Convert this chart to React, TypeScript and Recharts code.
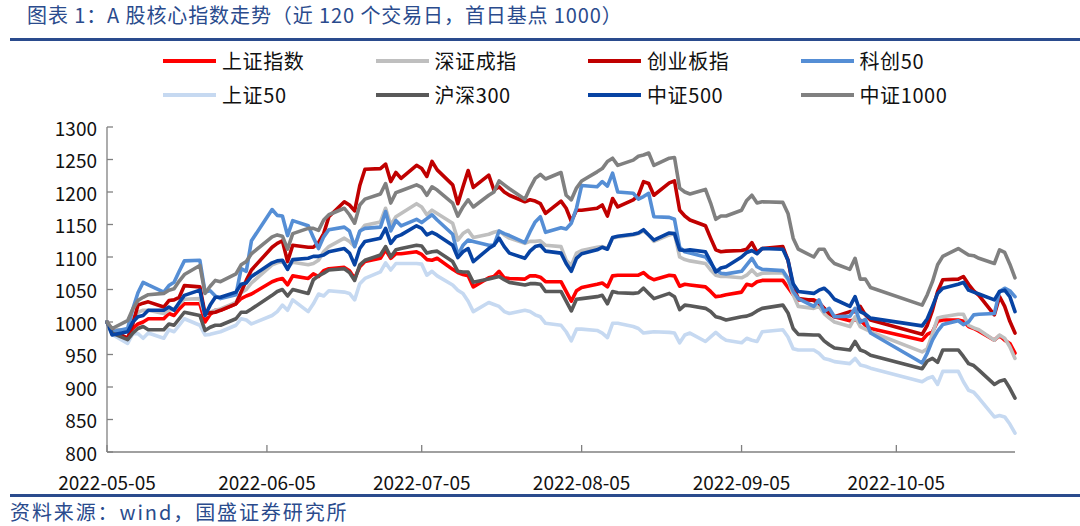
import React from 'react';
import { LineChart, Line, XAxis, YAxis } from 'recharts';

// 交易日（2022-05-05 起，共 120 个）
const tradeDays = [
  '2022-05-05', '2022-05-06', '2022-05-09', '2022-05-10', '2022-05-11', '2022-05-12', '2022-05-13',
  '2022-05-16', '2022-05-17', '2022-05-18', '2022-05-19', '2022-05-20', '2022-05-23', '2022-05-24',
  '2022-05-25', '2022-05-26', '2022-05-27', '2022-05-30', '2022-05-31',
  '2022-06-01', '2022-06-02', '2022-06-06', '2022-06-07', '2022-06-08', '2022-06-09', '2022-06-10',
  '2022-06-13', '2022-06-14', '2022-06-15', '2022-06-16', '2022-06-17', '2022-06-20', '2022-06-21',
  '2022-06-22', '2022-06-23', '2022-06-24', '2022-06-27', '2022-06-28', '2022-06-29', '2022-06-30',
  '2022-07-01', '2022-07-04', '2022-07-05', '2022-07-06', '2022-07-07', '2022-07-08', '2022-07-11',
  '2022-07-12', '2022-07-13', '2022-07-14', '2022-07-15', '2022-07-18', '2022-07-19', '2022-07-20',
  '2022-07-21', '2022-07-22', '2022-07-25', '2022-07-26', '2022-07-27', '2022-07-28', '2022-07-29',
  '2022-08-01', '2022-08-02', '2022-08-03', '2022-08-04', '2022-08-05', '2022-08-08', '2022-08-09',
  '2022-08-10', '2022-08-11', '2022-08-12', '2022-08-15', '2022-08-16', '2022-08-17', '2022-08-18',
  '2022-08-19', '2022-08-22', '2022-08-23', '2022-08-24', '2022-08-25', '2022-08-26', '2022-08-29',
  '2022-08-30', '2022-08-31',
  '2022-09-01', '2022-09-02', '2022-09-05', '2022-09-06', '2022-09-07', '2022-09-08', '2022-09-09',
  '2022-09-13', '2022-09-14', '2022-09-15', '2022-09-16', '2022-09-19', '2022-09-20', '2022-09-21',
  '2022-09-22', '2022-09-23', '2022-09-26', '2022-09-27', '2022-09-28', '2022-09-29', '2022-09-30',
  '2022-10-10', '2022-10-11', '2022-10-12', '2022-10-13', '2022-10-14', '2022-10-17', '2022-10-18',
  '2022-10-19', '2022-10-20', '2022-10-21', '2022-10-24', '2022-10-25', '2022-10-26', '2022-10-27',
  '2022-10-28',
];

const tickDays = ['2022-05-05', '2022-06-05', '2022-07-05', '2022-08-05', '2022-09-05', '2022-10-05'];
const yTicks = [800, 850, 900, 950, 1000, 1050, 1100, 1150, 1200, 1250, 1300];

// 各指数（首日 = 1000）
const shComp = [
  1000, 985, 975, 990, 997, 1000, 1005, 1005, 1013, 1010, 1020, 1028, 1028, 1000, 1012, 1018, 1018, 1028, 1036,
  1040, 1043, 1062, 1065, 1067, 1057, 1071, 1067, 1074, 1070, 1079, 1082, 1084, 1079, 1067, 1085, 1093, 1098, 1111, 1098, 1105,
  1105, 1108, 1104, 1096, 1095, 1098, 1081, 1076, 1073, 1071, 1054, 1068, 1070, 1078, 1068, 1067, 1066, 1071, 1071, 1069, 1062,
  1062, 1047, 1032, 1048, 1053, 1058, 1060, 1054, 1071, 1072, 1072, 1072, 1076, 1069, 1065, 1072, 1071, 1055, 1058, 1057, 1054, 1047, 1039,
  1040, 1042, 1046, 1058, 1056, 1062, 1064, 1064, 1053, 1042, 1034, 1034, 1030, 1021, 1013, 1008, 1002, 1003, 1003, 995, 990,
  972, 981, 985, 1001, 1003, 1003, 1001, 993, 990, 986, 972, 979, 972, 967, 952,
];
const szComp = [
  1000, 988, 988, 1005, 1015, 1018, 1018, 1013, 1018, 1020, 1028, 1035, 1036, 1010, 1015, 1018, 1020, 1030, 1045,
  1050, 1060, 1088, 1091, 1093, 1084, 1092, 1088, 1090, 1095, 1108, 1116, 1129, 1124, 1116, 1139, 1149, 1154, 1175, 1149, 1162,
  1167, 1182, 1177, 1165, 1172, 1167, 1152, 1126, 1136, 1141, 1130, 1135, 1138, 1140, 1134, 1129, 1121, 1124, 1124, 1125, 1118,
  1116, 1095, 1087, 1106, 1110, 1115, 1116, 1113, 1129, 1131, 1134, 1136, 1140, 1134, 1124, 1134, 1136, 1100, 1096, 1094, 1090, 1080, 1072,
  1070, 1070, 1068, 1072, 1080, 1072, 1075, 1076, 1065, 1042, 1024, 1021, 1024, 1013, 1006, 1000, 993, 1008, 993, 989, 985,
  954, 959, 982, 1006, 1008, 1012, 1012, 995, 991, 988, 972, 980, 975, 962, 944,
];
const chiNext = [
  1000, 987, 975, 997, 1026, 1029, 1031, 1023, 1033, 1034, 1038, 1056, 1054, 1013, 1014, 1015, 1018, 1028, 1046,
  1064, 1080, 1115, 1121, 1125, 1093, 1118, 1115, 1115, 1122, 1136, 1162, 1185, 1180, 1171, 1210, 1235, 1236, 1243, 1216, 1230,
  1221, 1241, 1236, 1224, 1247, 1234, 1211, 1182, 1208, 1233, 1207, 1226, 1203, 1208, 1200, 1195, 1185, 1188, 1186, 1182, 1167,
  1186, 1175, 1155, 1172, 1172, 1175, 1180, 1163, 1190, 1177, 1188, 1195, 1216, 1213, 1195, 1214, 1217, 1172, 1163, 1157, 1148, 1129, 1111,
  1108, 1109, 1110, 1112, 1122, 1107, 1113, 1116, 1095, 1054, 1036, 1033, 1029, 1021, 1013, 1008, 1016, 1016, 1024, 1011, 1003,
  981, 995, 1018, 1047, 1065, 1066, 1070, 1058, 1048, 1041, 1011, 1039, 1024, 1001, 983,
];
const star50 = [
  1000, 985, 990, 1020, 1045, 1061, 1057, 1046, 1056, 1061, 1078, 1094, 1095, 1046, 1048, 1040, 1036, 1042, 1082,
  1078, 1125, 1173, 1164, 1163, 1133, 1156, 1148, 1130, 1113, 1131, 1142, 1146, 1140, 1116, 1140, 1144, 1146, 1170, 1140, 1156,
  1148, 1158, 1153, 1159, 1165, 1157, 1135, 1103, 1118, 1126, 1124, 1118, 1118, 1140, 1136, 1133, 1122, 1139, 1154, 1162, 1138,
  1145, 1143, 1152, 1175, 1210, 1208, 1216, 1209, 1229, 1200, 1198, 1189, 1193, 1198, 1162, 1161, 1158, 1115, 1108, 1106, 1100, 1090, 1080,
  1075, 1074, 1078, 1088, 1098, 1085, 1081, 1079, 1067, 1047, 1036, 1024, 1034, 1016, 1021, 1008, 1009, 1021, 1000, 1004, 983,
  937, 952, 972, 986, 996, 1002, 996, 1000, 1011, 1012, 1013, 1047, 1052, 1048, 1039,
];
const sse50 = [
  1000, 981, 967, 982, 982, 975, 983, 975, 988, 985, 995, 1005, 995, 980, 981, 983, 985, 995, 1005,
  1003, 997, 1010, 1016, 1026, 1018, 1034, 1016, 1028, 1043, 1040, 1048, 1046, 1044, 1034, 1059, 1067, 1077, 1091, 1080, 1090,
  1090, 1090, 1089, 1072, 1078, 1071, 1057, 1049, 1044, 1032, 1016, 1030, 1027, 1024, 1016, 1013, 1018, 1016, 1011, 1008, 998,
  995, 985, 971, 989, 989, 987, 983, 976, 998, 998, 993, 990, 983, 984, 985, 984, 983, 968, 980, 983, 970, 977, 984,
  977, 972, 968, 975, 972, 970, 985, 988, 977, 959, 957, 957, 952, 944, 942, 939, 936, 944, 934, 932, 929,
  908, 913, 916, 904, 924, 924, 908, 895, 892, 883, 854, 856, 854, 843, 829,
];
const csi300 = [
  1000, 983, 973, 983, 990, 993, 988, 988, 997, 995, 1005, 1015, 1010, 987, 992, 995, 995, 1005, 1015,
  1015, 1020, 1041, 1047, 1050, 1040, 1050, 1044, 1065, 1071, 1075, 1080, 1082, 1076, 1064, 1088, 1095, 1103, 1116, 1100, 1111,
  1113, 1118, 1117, 1106, 1108, 1109, 1093, 1078, 1077, 1077, 1061, 1066, 1068, 1070, 1065, 1061, 1057, 1059, 1059, 1058, 1047,
  1047, 1032, 1017, 1035, 1036, 1039, 1041, 1028, 1047, 1045, 1044, 1045, 1052, 1044, 1036, 1044, 1039, 1019, 1026, 1025, 1021, 1016, 1008,
  1006, 1003, 1008, 1009, 1012, 1017, 1021, 1026, 1014, 990, 981, 980, 980, 971, 965, 960, 957, 970, 957, 954, 949,
  928, 940, 944, 938, 957, 957, 947, 936, 933, 926, 904, 909, 911, 898, 883,
];
const csi500 = [
  1000, 980, 985, 1000, 1008, 1010, 1018, 1018, 1023, 1018, 1030, 1041, 1049, 1010, 1026, 1038, 1038, 1046, 1058,
  1060, 1070, 1091, 1094, 1095, 1081, 1096, 1098, 1101, 1101, 1103, 1108, 1113, 1106, 1088, 1113, 1124, 1129, 1144, 1121, 1131,
  1134, 1148, 1144, 1134, 1138, 1134, 1118, 1099, 1108, 1113, 1093, 1113, 1118, 1129, 1116, 1106, 1098, 1109, 1116, 1118, 1109,
  1106, 1090, 1078, 1098, 1105, 1111, 1115, 1112, 1130, 1132, 1135, 1137, 1142, 1134, 1126, 1137, 1136, 1111, 1110, 1111, 1108, 1093, 1077,
  1083, 1085, 1100, 1107, 1110, 1105, 1113, 1112, 1095, 1059, 1047, 1044, 1049, 1052, 1045, 1035, 1024, 1039, 1016, 1012, 1006,
  994, 1005, 1024, 1044, 1052, 1058, 1061, 1049, 1046, 1043, 1034, 1047, 1049, 1039, 1016,
];
const csi1000 = [
  1000, 990, 1002, 1020, 1033, 1038, 1042, 1044, 1049, 1051, 1063, 1073, 1087, 1044, 1055, 1064, 1062, 1074, 1088,
  1093, 1105, 1131, 1134, 1132, 1112, 1136, 1144, 1144, 1141, 1157, 1165, 1175, 1165, 1152, 1180, 1189, 1197, 1213, 1183, 1199,
  1202, 1211, 1207, 1195, 1208, 1203, 1183, 1163, 1177, 1188, 1177, 1195, 1200, 1217, 1211, 1205, 1189, 1206, 1221, 1227, 1220,
  1230, 1195, 1188, 1206, 1217, 1231, 1236, 1247, 1252, 1241, 1249, 1255, 1257, 1260, 1241, 1252, 1253, 1206, 1200, 1197, 1204, 1183, 1158,
  1163, 1163, 1172, 1187, 1195, 1183, 1185, 1184, 1167, 1129, 1112, 1100, 1112, 1112, 1098, 1090, 1081, 1098, 1066, 1066, 1053,
  1026, 1042, 1062, 1088, 1101, 1113, 1108, 1103, 1102, 1098, 1090, 1111, 1107, 1089, 1068,
];

const seriesNames = ['上证指数', '深证成指', '创业板指', '科创50', '上证50', '沪深300', '中证500', '中证1000'];
const seriesValues = [shComp, szComp, chiNext, star50, sse50, csi300, csi500, csi1000];

const COLORS = ['#FF0000', '#BFBFBF', '#C00000', '#558ED5', '#C6D9F1', '#595959', '#0743A3', '#808080'];
const BLUE = '#2A4B8D';
const AXIS = '#808080';
const FONT = '"Noto Sans CJK SC", "Noto Sans", sans-serif';

const ts = (d: string) => Date.parse(d + 'T00:00:00Z');
const keys = seriesNames.map((_, i) => `s${i}`);

const rows = tradeDays.map((d, i) => {
  const row: Record<string, number> = { t: ts(d) };
  seriesValues.forEach((vals, k) => {
    row[keys[k]] = vals[i];
  });
  return row;
});

const labelByTs: Record<number, string> = {};
tickDays.forEach((d) => (labelByTs[ts(d)] = d));

function YTick({ x, y, payload }: any) {
  return (
    <g>
      <line x1={x + 10} x2={x + 16} y1={y} y2={y} stroke={AXIS} strokeWidth={1.3} />
      <text x={x} y={y} textAnchor="end" dominantBaseline="central" fontSize={19} fontFamily={FONT} fill="#111">
        {payload.value}
      </text>
    </g>
  );
}

function XTick({ x, y, payload }: any) {
  return (
    <g>
      <line x1={x} x2={x} y1={y} y2={y - 7} stroke={AXIS} strokeWidth={1.3} />
      <text x={x} y={y + 29} textAnchor="middle" dominantBaseline="central" fontSize={19} fontFamily={FONT} fill="#111">
        {labelByTs[payload.value]}
      </text>
    </g>
  );
}

export default function App() {
  return (
    <div style={{ position: 'absolute', left: 0, top: 0, width: 1080, height: 526, background: '#fff', fontFamily: FONT }}>
      <div
        style={{
          position: 'absolute', left: 27, top: 3, fontSize: 20, letterSpacing: 0.9,
          color: BLUE, whiteSpace: 'nowrap', lineHeight: '24px',
        }}
      >
        图表 1：A 股核心指数走势（近 120 个交易日，首日基点 1000）
      </div>
      <div style={{ position: 'absolute', left: 10, top: 38, width: 1070, height: 3, background: BLUE }} />

      <div style={{ position: 'absolute', left: 163, top: 48, display: 'grid', gridTemplateColumns: 'repeat(4, 212.5px)', rowGap: 9 }}>
        {seriesNames.map((name, i) => (
          <div key={name} style={{ display: 'flex', alignItems: 'center', height: 25 }}>
            <span style={{ display: 'inline-block', width: 53, height: 4, background: COLORS[i], marginRight: 6 }} />
            <span style={{ fontSize: 20, letterSpacing: 0.6, color: '#111', whiteSpace: 'nowrap' }}>{name}</span>
          </div>
        ))}
      </div>

      <div style={{ position: 'absolute', left: 0, top: 0 }}>
        <LineChart width={1080} height={526} data={rows} margin={{ top: 127, right: 65, bottom: 0, left: 0 }}>
          <XAxis
            dataKey="t"
            type="number"
            domain={[ts(tradeDays[0]), ts(tradeDays[tradeDays.length - 1])]}
            ticks={tickDays.map(ts)}
            height={74}
            tickSize={0}
            tickMargin={0}
            tickLine={false}
            axisLine={{ stroke: AXIS, strokeWidth: 1.3 }}
            tick={<XTick />}
            interval={0}
          />
          <YAxis
            type="number"
            domain={[800, 1300]}
            ticks={yTicks}
            width={107}
            tickSize={0}
            tickMargin={10}
            tickLine={false}
            axisLine={{ stroke: AXIS, strokeWidth: 1.3 }}
            tick={<YTick />}
            interval={0}
          />
          {keys.map((k, i) => (
            <Line
              key={k}
              dataKey={k}
              name={seriesNames[i]}
              type="linear"
              stroke={COLORS[i]}
              strokeWidth={3.6}
              strokeLinejoin="round"
              strokeLinecap="round"
              dot={false}
              activeDot={false}
              isAnimationActive={false}
            />
          ))}
        </LineChart>
      </div>

      <div style={{ position: 'absolute', left: 10, top: 494, width: 1070, height: 3, background: BLUE }} />
      <div
        style={{
          position: 'absolute', left: 10, top: 500, fontSize: 20, letterSpacing: 1.9,
          color: BLUE, whiteSpace: 'nowrap', lineHeight: '24px',
        }}
      >
        资料来源：wind，国盛证券研究所
      </div>
    </div>
  );
}
